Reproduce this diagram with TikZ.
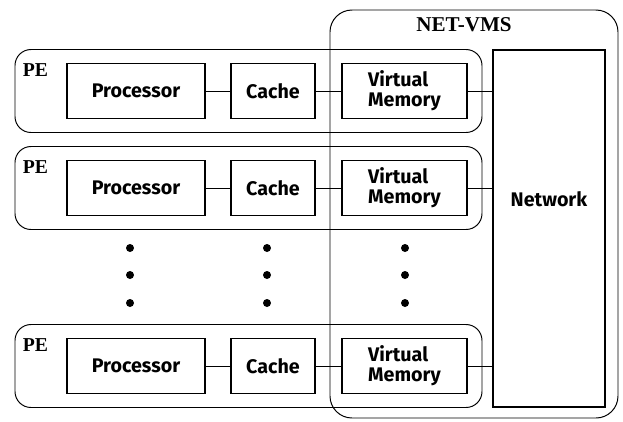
\documentclass[tikz,border=0pt]{standalone}
\usepackage{fontspec}
\setmainfont{Liberation Serif}
\setsansfont{Fira Sans}
\usepackage{tikz}
\usetikzlibrary{positioning, calc}
\tikzset{
	unitbox/.style={draw, line width=1.3pt, minimum height=1.375cm, font=\sffamily\bfseries\fontsize{14}{14}\selectfont, inner sep=2pt},
	unittext/.style={font=\sffamily\bfseries\fontsize{14}{14}\selectfont, inner sep=0pt},
	pebox/.style={draw, line width=0.7pt, rounded corners=0.4cm, minimum width=11.675cm, minimum height=2.075cm},
	vmsbox/.style={draw, line width=0.7pt, rounded corners=0.55cm, minimum width=7.2cm, minimum height=10.2cm},
	pelabel/.style={font=\bfseries\fontsize{14}{16}\selectfont, inner sep=0pt},
	link/.style={line width=0.7pt},
}

\begin{document}
\begin{tikzpicture}
	\useasboundingbox (0,0) rectangle (15.575,-10.525);
	% shared part
	\node[vmsbox] (vms) at (11.85,-5.35) {};
	\node[font=\bfseries\fontsize{15}{17}\selectfont] (vmstitle) at (11.6,-0.625) {NET-VMS};
	\node[draw, line width=1.3pt, minimum width=2.8cm, minimum height=8.925cm] (net) at (13.725,-5.7125) {};
	\node[unittext] (nettext) at ([yshift=-3.75cm]net.north) {Network};
	% processing elements
	\foreach \r/\y in {1/-2.275, 2/-4.7, 3/-9.15} {
		\node[pebox] (pe\r) at (6.2125,\y) {};
		\node[pelabel, anchor=north west] (pelbl\r) at ([xshift=0.2cm, yshift=-0.36cm]pe\r.north west) {PE};
		\node[unitbox, minimum width=3.45cm] (proc\r) at (3.4,\y) {Processor};
		\node[unitbox, minimum width=2.1cm] (cache\r) at (6.825,\y) {Cache};
		\node[unitbox, minimum width=3.125cm, align=left] (vm\r) at (10.1125,\y) {Virtual\\Memory};
		\draw[link] (proc\r) -- (cache\r);
		\draw[link] (cache\r) -- (vm\r);
		\draw[link] (vm\r.east) -- (vm\r.east -| net.west);
	}
	% dots between rows
	\foreach \x in {3.25, 6.675, 10.125}
		\foreach \y in {-6.2, -6.875, -7.575}
			\fill (\x,\y) circle (0.1);
\end{tikzpicture}
\end{document}
